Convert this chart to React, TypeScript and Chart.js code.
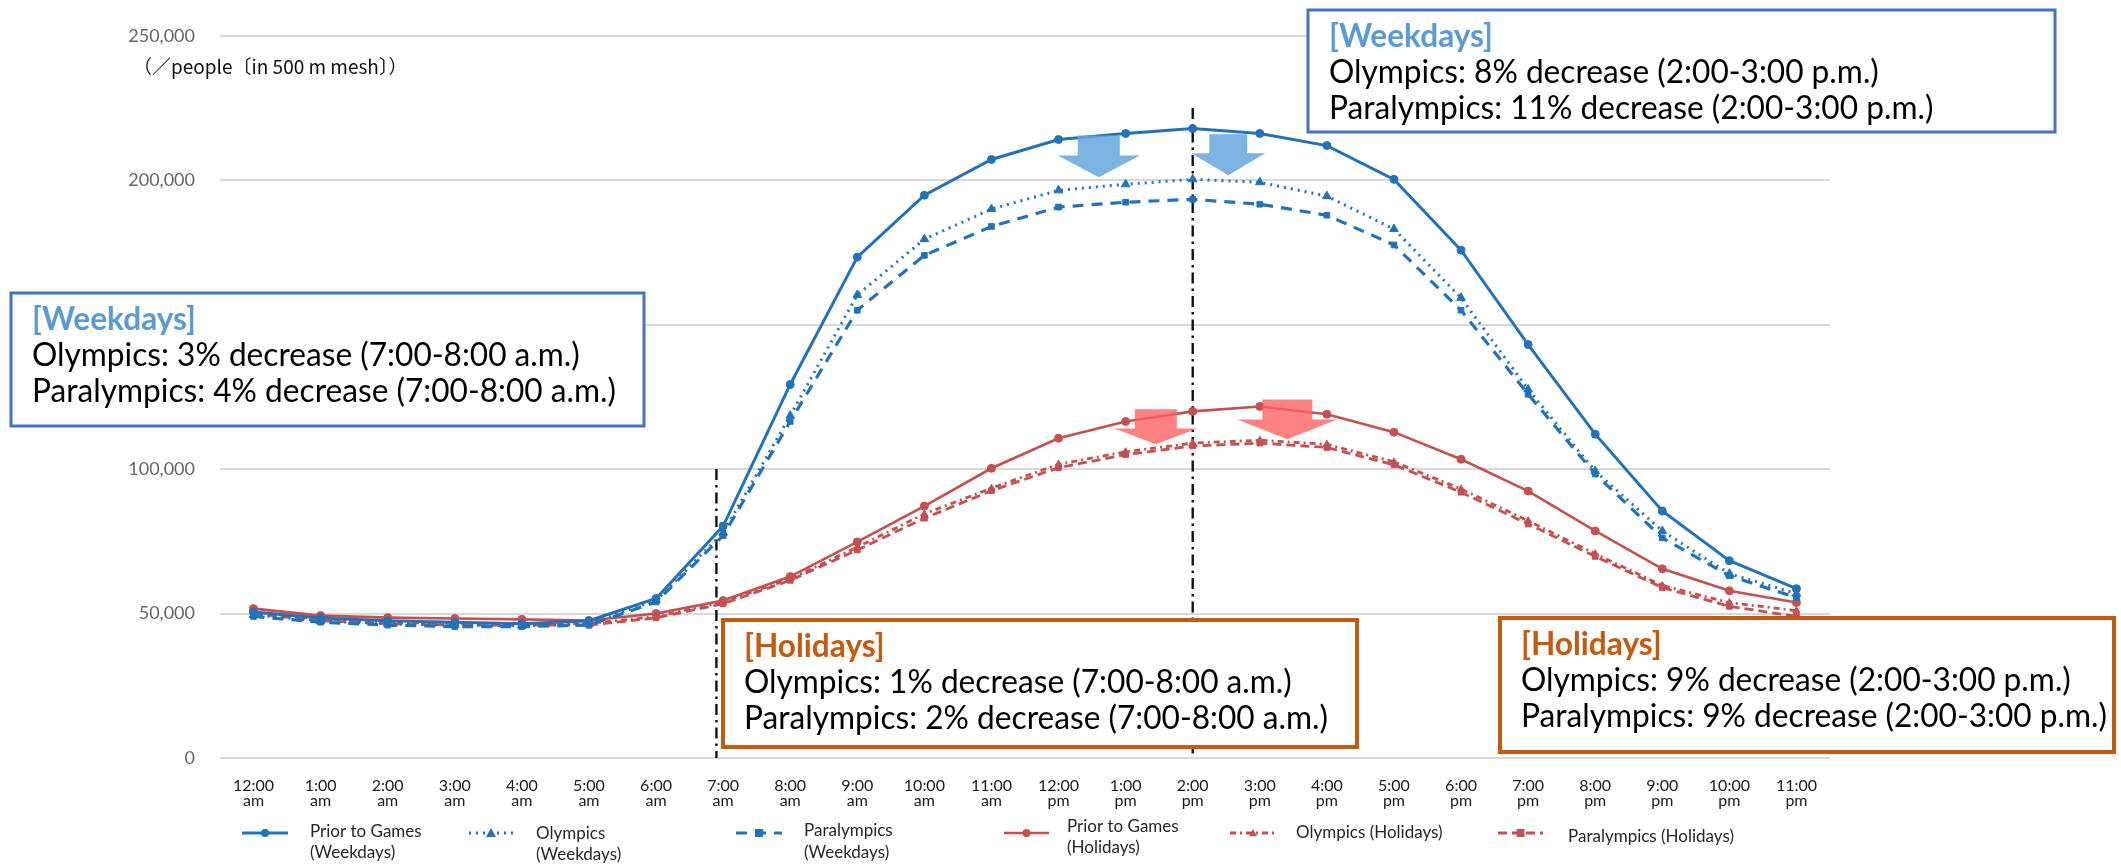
import React, { useEffect, useRef } from 'react';
import { Chart, registerables } from 'chart.js';

Chart.register(...registerables);

// ---------- data ----------
const HOURS = ['12:00', '1:00', '2:00', '3:00', '4:00', '5:00', '6:00', '7:00', '8:00', '9:00', '10:00', '11:00',
  '12:00', '1:00', '2:00', '3:00', '4:00', '5:00', '6:00', '7:00', '8:00', '9:00', '10:00', '11:00'];
const PERIODS = ['am', 'am', 'am', 'am', 'am', 'am', 'am', 'am', 'am', 'am', 'am', 'am',
  'pm', 'pm', 'pm', 'pm', 'pm', 'pm', 'pm', 'pm', 'pm', 'pm', 'pm', 'pm'];
const Y_MIN = 0;
const Y_MAX = 250000;
const Y_STEP = 50000;

const PRIOR_WEEKDAYS = [50500, 48500, 47500, 47000, 46500, 47500, 55200, 80300, 129300, 173400, 194800, 207200,
  214100, 216200, 217900, 216200, 212000, 200300, 175800, 143100, 112100, 85500, 68300, 58600];
const OLYMPICS_WEEKDAYS = [49500, 47500, 46500, 46000, 45800, 46500, 54500, 78000, 118500, 160300, 179600, 190000,
  196500, 198600, 200300, 199300, 194500, 183100, 159300, 127600, 99300, 78600, 63800, 56900];
const PARALYMPICS_WEEKDAYS = [49000, 47000, 46000, 45500, 45500, 46000, 54000, 77000, 116500, 155000, 174000, 184000,
  190700, 192400, 193400, 191700, 187900, 177600, 155000, 125900, 98300, 76200, 63100, 55500];
const PRIOR_HOLIDAYS = [51700, 49300, 48600, 48300, 48000, 47600, 50000, 54500, 62800, 74800, 87200, 100300,
  110700, 116500, 120000, 121700, 119000, 112800, 103400, 92400, 78600, 65500, 57900, 53800];
const OLYMPICS_HOLIDAYS = [50500, 48000, 47000, 46500, 46500, 46500, 49000, 54000, 62000, 73000, 84500, 93400,
  101700, 106000, 109000, 110000, 108600, 102500, 93100, 82100, 70700, 59700, 53800, 51000];
const PARALYMPICS_HOLIDAYS = [50000, 47500, 46500, 46000, 46000, 46000, 48500, 53400, 61500, 72000, 83000, 92500,
  100500, 105000, 108000, 109000, 107500, 101500, 92000, 81000, 69800, 59000, 52500, 49000];

const SERIES_LABELS = [
  ['Prior to Games', '(Weekdays)'],
  ['Olympics', '(Weekdays)'],
  ['Paralympics', '(Weekdays)'],
  ['Prior to Games', '(Holidays)'],
  ['Olympics (Holidays)'],
  ['Paralympics (Holidays)'],
];

const UNIT_LABEL = '（／people〔in 500 m mesh〕）';

const BOX_TEXTS = [
  ['[Weekdays]', 'Olympics: 8% decrease (2:00-3:00 p.m.)', 'Paralympics: 11% decrease (2:00-3:00 p.m.)'],
  ['[Weekdays]', 'Olympics: 3% decrease (7:00-8:00 a.m.)', 'Paralympics: 4% decrease (7:00-8:00 a.m.)'],
  ['[Holidays]', 'Olympics: 1% decrease (7:00-8:00 a.m.)', 'Paralympics: 2% decrease (7:00-8:00 a.m.)'],
  ['[Holidays]', 'Olympics: 9% decrease (2:00-3:00 p.m.)', 'Paralympics: 9% decrease (2:00-3:00 p.m.)'],
];

// reference markers: category index and top value of the dash-dot guides
const GUIDE_INDEX = [6.9, 14];
const GUIDE_TOP = [100000, 225000];

// arrows: center index, top value, shaft-bottom value, tip value
const ARROW_CENTER = [12.6, 14.53, 13.45, 15.41];
const ARROW_TOP = [215500, 215900, 120700, 124100];
const ARROW_NECK = [208600, 209300, 114100, 117200];
const ARROW_TIP = [201000, 201700, 108600, 110300];

// ---------- styles ----------
const BLUE = '#2372B9';
const RED = '#C4504F';
const FONT = 'Lato, "Open Sans", sans-serif';

const BOX_STYLE = [
  { x: 1308, y: 10, w: 747, h: 122, border: '#4472C4', lw: 3, title: '#5B9BD5' },
  { x: 11, y: 293, w: 633, h: 133, border: '#4472C4', lw: 3, title: '#5B9BD5' },
  { x: 723, y: 620, w: 634, h: 127, border: '#C55A11', lw: 4, title: '#C55A11' },
  { x: 1500, y: 618, w: 614, h: 134, border: '#C55A11', lw: 4, title: '#C55A11' },
];
const ARROW_STYLE = [
  { w: 82, shaft: 42, color: 'rgba(100,166,222,0.85)' },
  { w: 74, shaft: 38, color: 'rgba(100,166,222,0.85)' },
  { w: 83, shaft: 42, color: 'rgba(255,95,95,0.78)' },
  { w: 100, shaft: 50, color: 'rgba(255,95,95,0.78)' },
];
const LEGEND_POS = [
  { x1: 242, x2: 288, tx: 310, ys: [832, 853] },
  { x1: 469, x2: 513, tx: 536, ys: [834, 855] },
  { x1: 736, x2: 782, tx: 804, ys: [831, 853] },
  { x1: 1004, x2: 1049, tx: 1067, ys: [827, 848] },
  { x1: 1230, x2: 1276, tx: 1296, ys: [833] },
  { x1: 1498, x2: 1543, tx: 1568, ys: [837] },
];
const LEGEND_Y = 833;

const SERIES = [PRIOR_WEEKDAYS, OLYMPICS_WEEKDAYS, PARALYMPICS_WEEKDAYS, PRIOR_HOLIDAYS, OLYMPICS_HOLIDAYS, PARALYMPICS_HOLIDAYS];
const SERIES_STYLE = [
  { color: BLUE, width: 3, dash: [], point: 'circle', r: 4 },
  { color: BLUE, width: 3, dash: [2, 5], point: 'triangle', r: 5 },
  { color: BLUE, width: 3.2, dash: [11, 8], point: 'rect', r: 4 },
  { color: RED, width: 2.6, dash: [], point: 'circle', r: 4 },
  { color: RED, width: 2.8, dash: [6, 4, 2, 4], point: 'triangle', r: 4 },
  { color: RED, width: 2.8, dash: [9, 5], point: 'rect', r: 4 },
];

function drawMarker(ctx: CanvasRenderingContext2D, style: string, x: number, y: number, r: number, color: string) {
  ctx.save();
  ctx.setLineDash([]);
  ctx.fillStyle = color;
  ctx.beginPath();
  if (style === 'circle') {
    ctx.arc(x, y, r, 0, Math.PI * 2);
  } else if (style === 'triangle') {
    ctx.moveTo(x, y - r);
    ctx.lineTo(x + r, y + r * 0.8);
    ctx.lineTo(x - r, y + r * 0.8);
    ctx.closePath();
  } else {
    ctx.rect(x - r, y - r, 2 * r, 2 * r);
  }
  ctx.fill();
  ctx.restore();
}

function drawScaledText(ctx: CanvasRenderingContext2D, text: string, x: number, y: number, sx: number) {
  ctx.save();
  ctx.translate(x, y);
  ctx.scale(sx, 1);
  ctx.fillText(text, 0, 0);
  ctx.restore();
}

const overlayPlugin = {
  id: 'overlay',
  beforeDatasetsDraw(chart: any) {
    const ctx: CanvasRenderingContext2D = chart.ctx;
    const xs = chart.scales.x;
    const ys = chart.scales.y;
    ctx.save();
    ctx.strokeStyle = '#111';
    ctx.lineWidth = 2.4;
    ctx.setLineDash([11, 5, 2.5, 5]);
    GUIDE_INDEX.forEach((idx, i) => {
      const px = xs.getPixelForValue(idx);
      ctx.beginPath();
      ctx.moveTo(px, ys.getPixelForValue(GUIDE_TOP[i]));
      ctx.lineTo(px, ys.getPixelForValue(0));
      ctx.stroke();
    });
    ctx.restore();
  },
  afterDatasetsDraw(chart: any) {
    const ctx: CanvasRenderingContext2D = chart.ctx;
    const xs = chart.scales.x;
    const ys = chart.scales.y;

    // arrows
    ARROW_CENTER.forEach((c, i) => {
      const st = ARROW_STYLE[i];
      const cx = xs.getPixelForValue(c);
      const top = ys.getPixelForValue(ARROW_TOP[i]);
      const neck = ys.getPixelForValue(ARROW_NECK[i]);
      const tip = ys.getPixelForValue(ARROW_TIP[i]);
      ctx.save();
      ctx.fillStyle = st.color;
      ctx.beginPath();
      ctx.moveTo(cx - st.shaft / 2, top);
      ctx.lineTo(cx + st.shaft / 2, top);
      ctx.lineTo(cx + st.shaft / 2, neck);
      ctx.lineTo(cx + st.w / 2, neck);
      ctx.lineTo(cx, tip);
      ctx.lineTo(cx - st.w / 2, neck);
      ctx.lineTo(cx - st.shaft / 2, neck);
      ctx.closePath();
      ctx.fill();
      ctx.restore();
    });

    // annotation boxes
    ctx.save();
    ctx.font = `32px ${FONT}`;
    const sxReg = 586 / ctx.measureText('Paralympics: 9% decrease (2:00-3:00 p.m.)').width;
    ctx.font = `bold 32px ${FONT}`;
    const sxBold = 164 / ctx.measureText('[Weekdays]').width;
    ctx.restore();

    BOX_TEXTS.forEach((lines, i) => {
      const b = BOX_STYLE[i];
      ctx.save();
      ctx.fillStyle = '#ffffff';
      ctx.fillRect(b.x, b.y, b.w, b.h);
      ctx.strokeStyle = b.border;
      ctx.lineWidth = b.lw;
      ctx.setLineDash([]);
      ctx.strokeRect(b.x, b.y, b.w, b.h);
      ctx.textBaseline = 'alphabetic';
      ctx.textAlign = 'left';
      const offs = [37, 73, 109];
      lines.forEach((t, j) => {
        if (j === 0) {
          ctx.font = `bold 32px ${FONT}`;
          ctx.fillStyle = b.title;
          drawScaledText(ctx, t, b.x + 21, b.y + offs[j], sxBold);
        } else {
          ctx.font = `32px ${FONT}`;
          ctx.fillStyle = '#000000';
          drawScaledText(ctx, t, b.x + 21, b.y + offs[j], sxReg);
        }
      });
      ctx.restore();
    });

    // legend
    SERIES_LABELS.forEach((lines, i) => {
      const p = LEGEND_POS[i];
      const st = SERIES_STYLE[i];
      ctx.save();
      ctx.strokeStyle = st.color;
      ctx.lineWidth = st.width;
      ctx.setLineDash(st.dash);
      ctx.beginPath();
      ctx.moveTo(p.x1, LEGEND_Y);
      ctx.lineTo(p.x2, LEGEND_Y);
      ctx.stroke();
      drawMarker(ctx, st.point, (p.x1 + p.x2) / 2, LEGEND_Y, st.r, st.color);
      ctx.font = `17px ${FONT}`;
      ctx.fillStyle = '#262626';
      ctx.textBaseline = 'middle';
      ctx.textAlign = 'left';
      lines.forEach((t, j) => ctx.fillText(t, p.tx, p.ys[j]));
      ctx.restore();
    });

    // unit label
    ctx.save();
    ctx.font = '19px "Noto Sans CJK JP", sans-serif';
    ctx.fillStyle = '#111';
    ctx.textBaseline = 'middle';
    ctx.textAlign = 'left';
    ctx.fillText(UNIT_LABEL, 133, 67);
    ctx.restore();
  },
};

export default function App() {
  const ref = useRef<HTMLCanvasElement>(null);

  useEffect(() => {
    if (!ref.current) return;
    const labels = HOURS.map((h, i) => [h, PERIODS[i]]);
    const datasets = SERIES.map((data, i) => {
      const st = SERIES_STYLE[i];
      return {
        label: SERIES_LABELS[i].join(' '),
        data,
        borderColor: st.color,
        backgroundColor: st.color,
        borderWidth: st.width,
        borderDash: st.dash,
        pointStyle: st.point,
        pointRadius: st.r,
        pointBackgroundColor: st.color,
        pointBorderColor: st.color,
        pointBorderWidth: 1,
        tension: 0,
        fill: false,
      };
    });
    const chart = new Chart(ref.current, {
      type: 'line',
      data: { labels, datasets } as any,
      plugins: [overlayPlugin],
      options: {
        responsive: false,
        animation: false,
        layout: { padding: { top: 33, right: 291, bottom: 0, left: 0 } },
        plugins: { legend: { display: false }, tooltip: { enabled: false } },
        scales: {
          x: {
            offset: true,
            grid: { display: false },
            border: { display: false },
            ticks: {
              maxRotation: 0,
              autoSkip: false,
              color: '#1a1a1a',
              padding: 12,
              font: { family: FONT, size: 16, lineHeight: 0.95 },
            },
            afterFit: (s: any) => { s.height = 106; },
          },
          y: {
            min: Y_MIN,
            max: Y_MAX,
            grid: { color: '#d9d9d9', lineWidth: 2, drawTicks: false },
            border: { display: false },
            ticks: {
              stepSize: Y_STEP,
              padding: 25,
              color: '#666666',
              font: { family: FONT, size: 18 },
              callback: (v: any) => Number(v).toLocaleString('en-US'),
            },
            afterFit: (s: any) => { s.width = 220; },
          },
        },
      } as any,
    });
    return () => chart.destroy();
  }, []);

  return (
    <div style={{ position: 'absolute', left: 0, top: 0, width: 2121, height: 864, background: '#ffffff' }}>
      <canvas ref={ref} width={2121} height={864} style={{ display: 'block', width: 2121, height: 864 }} />
    </div>
  );
}
